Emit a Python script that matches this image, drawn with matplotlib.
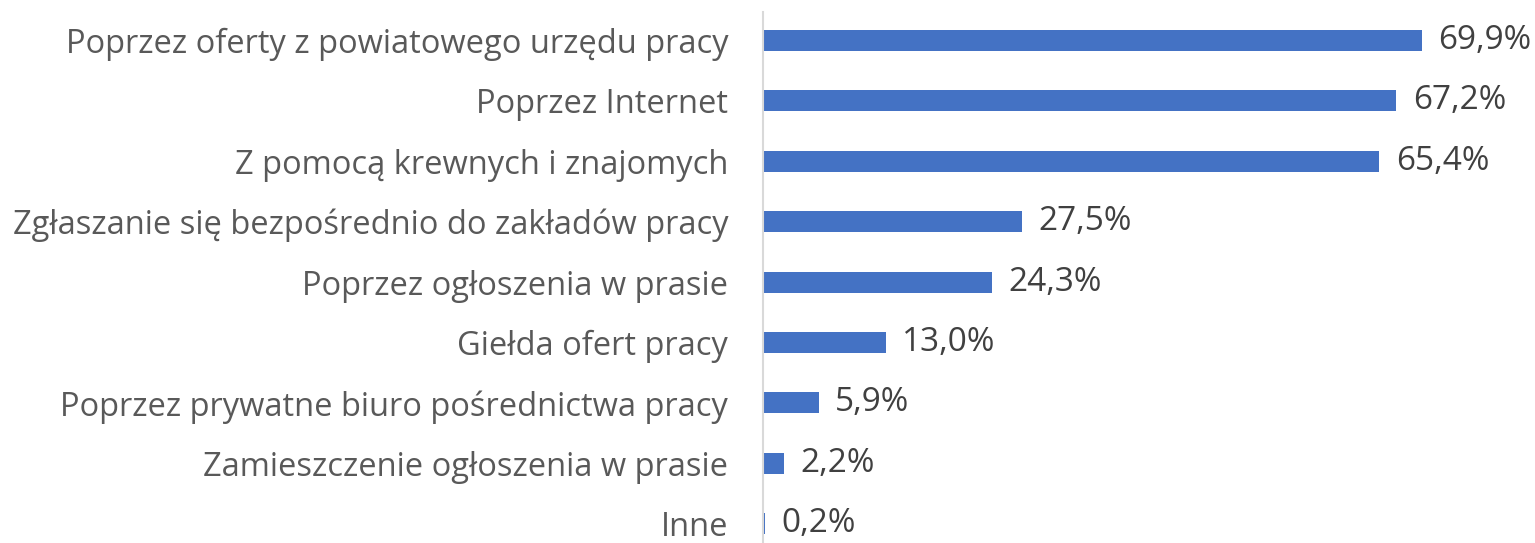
import matplotlib
matplotlib.use("Agg")
import matplotlib.pyplot as plt

categories = [
    "Poprzez oferty z powiatowego urzędu pracy",
    "Poprzez Internet",
    "Z pomocą krewnych i znajomych",
    "Zgłaszanie się bezpośrednio do zakładów pracy",
    "Poprzez ogłoszenia w prasie",
    "Giełda ofert pracy",
    "Poprzez prywatne biuro pośrednictwa pracy",
    "Zamieszczenie ogłoszenia w prasie",
    "Inne",
]
values = [69.9, 67.2, 65.4, 27.5, 24.3, 13.0, 5.9, 2.2, 0.2]

plt.rcParams["font.family"] = ["Open Sans", "DejaVu Sans"]

W, H, DPI = 1535, 543, 100
fig = plt.figure(figsize=(W / DPI, H / DPI), dpi=DPI)
ax = fig.add_axes([763 / W, 0, (1517 - 763) / W, 1])

y = list(range(len(categories)))
ax.barh(y, values, height=0.35, color="#4472C4")

ax.set_xlim(0, 80)
ax.set_ylim((543 - 40.5) / 60.4, -40.5 / 60.4)

for yi, v in zip(y, values):
    ax.annotate(f"{v:.1f}%".replace(".", ","), (v, yi), xytext=(12, 0),
                textcoords="offset points", va="center", ha="left",
                fontsize=24, color="#404040")

ax.set_yticks(y)
ax.set_yticklabels(categories, fontsize=23.5, color="#595959")
ax.tick_params(axis="y", length=0, pad=25)
ax.set_xticks([])

for s in ["top", "right", "bottom"]:
    ax.spines[s].set_visible(False)
ax.spines["left"].set_color("#D9D9D9")
ax.spines["left"].set_linewidth(1.5)
ax.spines["left"].set_bounds(-0.47, (543 - 40.5) / 60.4)

fig.savefig("out.png", dpi=DPI)
